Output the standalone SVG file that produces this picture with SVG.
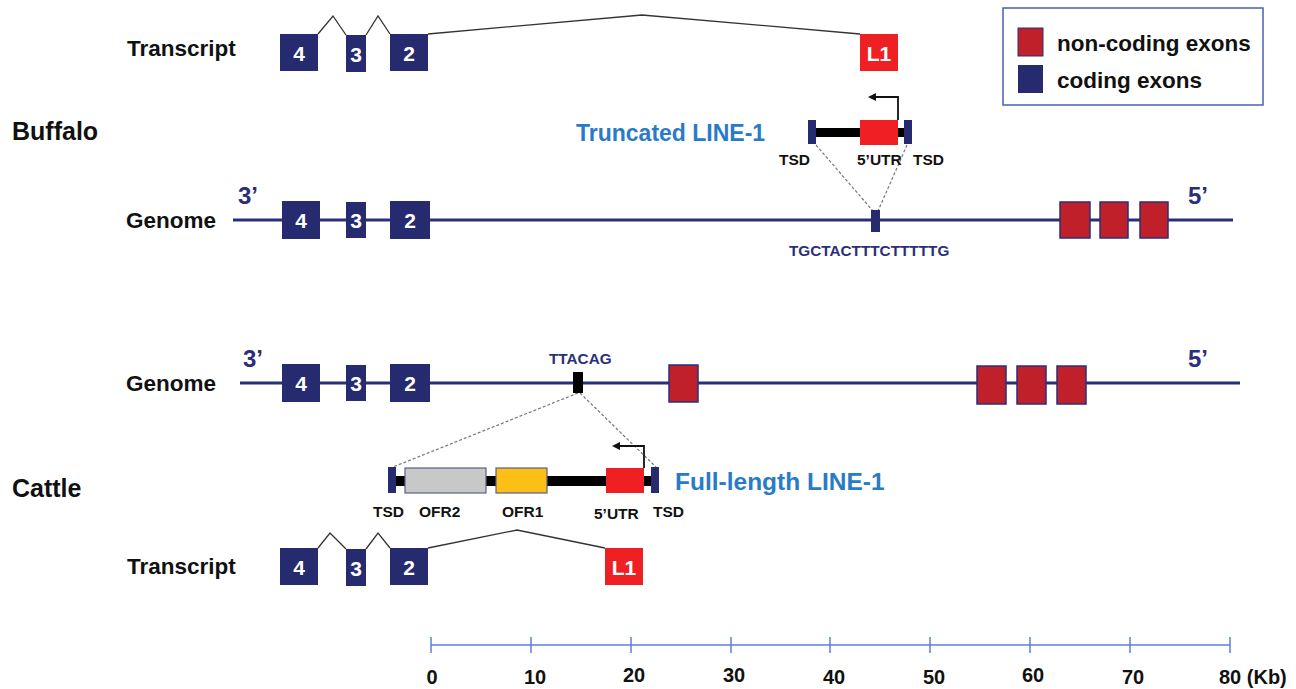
<svg xmlns="http://www.w3.org/2000/svg" width="1296" height="689" viewBox="0 0 1296 689">
<style>
text{font-family:"Liberation Sans",Arial,sans-serif;font-weight:bold}
.lbl{font-size:22.5px;fill:#111}
.leg{font-size:22.5px;fill:#111}
.sp{font-size:25px;fill:#111}
.num{font-size:21px;fill:#fff;text-anchor:middle}
.ex{fill:#262a6e}
.nc{fill:#c0202a;stroke:#2b2f7a;stroke-width:1.5}
.l1{fill:#ee2024}
.gl{stroke:#2b2f7a;stroke-width:3}
.intr{fill:none;stroke:#333;stroke-width:1.3}
.dash{fill:none;stroke:#777;stroke-width:1.2;stroke-dasharray:3,2}
.small{font-size:15.5px;fill:#111}
.seq{font-size:15.3px;fill:#2b2f7a}
.end{font-size:24px;fill:#2b2f7a}
.blue{font-size:23px;fill:#2a7bc6}
.tick{stroke:#5b7fd8;stroke-width:1.5}
.sc{font-size:20px;fill:#111;text-anchor:middle}
</style>
<defs>
<marker id="ah" markerWidth="8" markerHeight="8" refX="6" refY="4" orient="auto" markerUnits="userSpaceOnUse">
<path d="M0,0 L8,4 L0,8 z" fill="#111"/>
</marker>
</defs>

<g id="legend">
<rect x="1003" y="8" width="260" height="97" fill="#fff" stroke="#4a5fb5" stroke-width="1.5"/>
<rect x="1018" y="28" width="25" height="28" fill="#c0202a" stroke="#2b2f7a"/>
<rect x="1018" y="65" width="25" height="28" fill="#262a6e"/>
<text x="1057" y="51" class="leg">non-coding exons</text>
<text x="1057" y="88" class="leg">coding exons</text>
</g>

<g id="buffalo-label"><text x="12" y="140" class="sp">Buffalo</text></g>
<g id="cattle-label"><text x="12" y="497" class="sp">Cattle</text></g>

<g id="connectors">
<polyline class="intr" points="318,34 333,16 346,35"/>
<polyline class="intr" points="366,35 378,16 390,34"/>
<polyline class="intr" points="428,34 642,15 860,34"/>
<line class="dash" x1="816" y1="145" x2="873" y2="211"/>
<line class="dash" x1="907" y1="145" x2="878" y2="211"/>
<line class="dash" x1="578" y1="393" x2="393" y2="467"/>
<line class="dash" x1="580" y1="393" x2="656" y2="467"/>
<polyline class="intr" points="318,548 330,533 346,549"/>
<polyline class="intr" points="366,549 378,533 390,548"/>
<polyline class="intr" points="428,548 517,530 605,548"/>
</g>

<g id="buffalo-transcript">
<text x="127" y="56" class="lbl">Transcript</text>
<rect x="280" y="34" width="38" height="37" class="ex"/><text x="299" y="61" class="num">4</text>
<rect x="346" y="35" width="20" height="37" class="ex"/><text x="356" y="62" class="num">3</text>
<rect x="390" y="34" width="38" height="37" class="ex"/><text x="409" y="61" class="num">2</text>
<rect x="860" y="34" width="38" height="37" class="l1"/><text x="879" y="61" class="num">L1</text>
</g>

<g id="truncated-line1">
<text x="576" y="141" class="blue">Truncated LINE-1</text>
<rect x="816" y="128" width="88" height="9" fill="#000"/>
<rect x="808" y="120" width="8" height="24" class="ex"/>
<rect x="860" y="120" width="38" height="25" fill="#ee2024"/>
<rect x="904" y="120" width="8" height="24" class="ex"/>
<polyline points="898,120 898,97 870,97" fill="none" stroke="#111" stroke-width="1.8" marker-end="url(#ah)"/>
<text x="779" y="165" class="small">TSD</text>
<text x="857" y="165" class="small">5’UTR</text>
<text x="913" y="165" class="small">TSD</text>
</g>

<g id="buffalo-genome">
<text x="126" y="228" class="lbl">Genome</text>
<text x="238" y="204" class="end">3’</text>
<text x="1188" y="204" class="end">5’</text>
<line x1="233" y1="220" x2="1233" y2="220" class="gl"/>
<rect x="282" y="201" width="38" height="38" class="ex"/><text x="301" y="228" class="num">4</text>
<rect x="346" y="202" width="20" height="36" class="ex"/><text x="356" y="228" class="num">3</text>
<rect x="390" y="201" width="40" height="38" class="ex"/><text x="410" y="228" class="num">2</text>
<rect x="871" y="210" width="9" height="22" class="ex"/>
<text x="789" y="256" class="seq">TGCTACTTTCTTTTTG</text>
<rect x="1060" y="202" width="30" height="36" class="nc"/>
<rect x="1100" y="202" width="28" height="36" class="nc"/>
<rect x="1140" y="202" width="28" height="36" class="nc"/>
</g>

<g id="cattle-genome">
<text x="126" y="391" class="lbl">Genome</text>
<text x="243" y="367" class="end">3’</text>
<text x="1188" y="367" class="end">5’</text>
<line x1="240" y1="383" x2="1240" y2="383" class="gl"/>
<rect x="282" y="364" width="38" height="38" class="ex"/><text x="301" y="391" class="num">4</text>
<rect x="346" y="365" width="20" height="36" class="ex"/><text x="356" y="391" class="num">3</text>
<rect x="390" y="364" width="40" height="38" class="ex"/><text x="410" y="391" class="num">2</text>
<text x="549" y="364" class="seq">TTACAG</text>
<rect x="573" y="372" width="10" height="21" fill="#000"/>
<rect x="669" y="365" width="29" height="37" class="nc"/>
<rect x="977" y="366" width="29" height="38" class="nc"/>
<rect x="1017" y="366" width="29" height="38" class="nc"/>
<rect x="1057" y="366" width="29" height="38" class="nc"/>
</g>

<g id="full-length-line1">
<rect x="396" y="476" width="255" height="10" fill="#000"/>
<rect x="388" y="467" width="8" height="26" class="ex"/>
<rect x="405" y="468" width="81" height="25" fill="#c8c8c8" stroke="#5a5f8a" stroke-width="1.2"/>
<rect x="496" y="468" width="51" height="25" fill="#fbbf16" stroke="#5a5f8a" stroke-width="1.2"/>
<rect x="606" y="468" width="38" height="25" fill="#ee2024"/>
<rect x="651" y="467" width="8" height="26" class="ex"/>
<polyline points="644,468 644,446 614,446" fill="none" stroke="#111" stroke-width="1.8" marker-end="url(#ah)"/>
<text x="373" y="517" class="small">TSD</text>
<text x="419" y="517" class="small">OFR2</text>
<text x="502" y="517" class="small">OFR1</text>
<text x="594" y="519" class="small">5’UTR</text>
<text x="653" y="517" class="small">TSD</text>
<text x="675" y="490" class="blue" style="font-size:24.5px">Full-length LINE-1</text>
</g>

<g id="cattle-transcript">
<text x="127" y="574" class="lbl">Transcript</text>
<rect x="280" y="548" width="38" height="37" class="ex"/><text x="299" y="575" class="num">4</text>
<rect x="346" y="549" width="20" height="37" class="ex"/><text x="356" y="576" class="num">3</text>
<rect x="390" y="548" width="38" height="37" class="ex"/><text x="409" y="575" class="num">2</text>
<rect x="605" y="548" width="38" height="37" class="l1"/><text x="624" y="575" class="num">L1</text>
</g>

<g id="scale">
<line x1="431" y1="645" x2="1230" y2="645" class="tick"/>
<g class="tick">
<line x1="431" y1="637" x2="431" y2="653"/><line x1="531" y1="637" x2="531" y2="653"/>
<line x1="631" y1="637" x2="631" y2="653"/><line x1="731" y1="637" x2="731" y2="653"/>
<line x1="830" y1="637" x2="830" y2="653"/><line x1="930" y1="637" x2="930" y2="653"/>
<line x1="1030" y1="637" x2="1030" y2="653"/><line x1="1130" y1="637" x2="1130" y2="653"/>
<line x1="1230" y1="637" x2="1230" y2="653"/>
</g>
<text x="432" y="684" class="sc">0</text>
<text x="535" y="684" class="sc">10</text>
<text x="634" y="682" class="sc">20</text>
<text x="734" y="682" class="sc">30</text>
<text x="834" y="684" class="sc">40</text>
<text x="934" y="684" class="sc">50</text>
<text x="1033" y="682" class="sc">60</text>
<text x="1133" y="684" class="sc">70</text>
<text x="1219" y="684" style="font-size:20px;fill:#111">80 (Kb)</text>
</g>
</svg>
